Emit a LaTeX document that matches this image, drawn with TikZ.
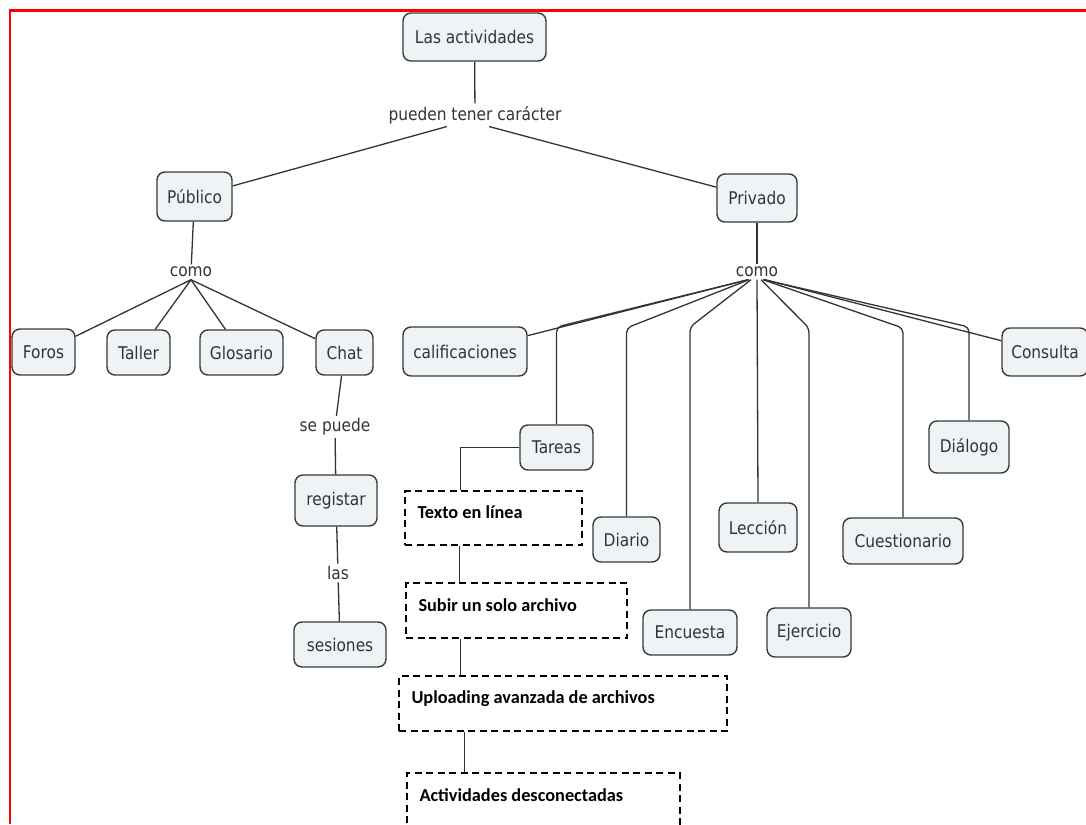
\documentclass[tikz,border=0pt]{standalone}
\usepackage{fontspec}
\setmainfont{DejaVu Sans}[FakeStretch=0.88]
\newfontfamily\boxfont{Carlito}
\definecolor{boxfill}{HTML}{EEF4F6}
\definecolor{boxline}{HTML}{3A3A3A}
\definecolor{ink}{HTML}{333333}
\begin{document}
\begin{tikzpicture}[x=1pt,y=-1pt,
  cbox/.style={draw=boxline, fill=boxfill, line width=1.4pt, rounded corners=8pt,
    inner sep=0pt, text=ink, font=\fontsize{17.5}{20}\selectfont},
  lbl/.style={inner sep=2.5pt, text=ink, font=\fontsize{17.5}{20}\selectfont},
  dbox/.style={draw=black, line width=1.4pt, dash pattern=on 7pt off 4.5pt, inner sep=0pt},
  dtext/.style={font=\boxfont\bfseries\fontsize{18.3}{21}\selectfont, inner sep=0pt, text=black},
  link/.style={draw=ink, line width=1.3pt},
  blink/.style={link, rounded corners=5pt}]
\useasboundingbox (0,0) rectangle (1086,824);
\fill[white] (0,0) rectangle (1086,824);
% frame
\draw[red, line width=2.6pt] (10,824) -- (10,10.5) -- (1090,10.5);

% nodes
\node[cbox, minimum width=143pt, minimum height=48pt] (las) at (474.5,37) {Las actividades};
\node[lbl] (ptc) at (475,115) {pueden tener carácter};
\node[cbox, minimum width=75pt, minimum height=49pt] (pub) at (194.5,196.5) {Público};
\node[cbox, minimum width=80pt, minimum height=48pt] (priv) at (757,198) {Privado};
\node[lbl] (c1) at (191,272) {como};
\node[lbl] (c2) at (757,272) {como};

\node[cbox, minimum width=63pt, minimum height=46pt] (foros) at (43.5,352) {Foros};
\node[cbox, minimum width=63pt, minimum height=45pt] (taller) at (138.5,352.5) {Taller};
\node[cbox, minimum width=83pt, minimum height=45pt] (glos) at (241.5,352.5) {Glosario};
\node[cbox, minimum width=57pt, minimum height=45pt] (chat) at (344.5,352.5) {Chat};
\node[lbl] (sep) at (335,427) {se puede};
\node[cbox, minimum width=82pt, minimum height=51pt] (reg) at (336,500.5) {registar};
\node[lbl] (las2) at (338,573) {las};
\node[cbox, minimum width=92pt, minimum height=45pt] (ses) at (340,644.5) {sesiones};

\node[cbox, minimum width=124pt, minimum height=49pt] (calif) at (465,351.5) {calificaciones};
\node[cbox, minimum width=73pt, minimum height=45pt] (tareas) at (556.5,447.5) {Tareas};
\node[cbox, minimum width=67pt, minimum height=45pt] (diario) at (626.5,539.5) {Diario};
\node[cbox, minimum width=94pt, minimum height=45pt] (encuesta) at (690,632.5) {Encuesta};
\node[cbox, minimum width=78pt, minimum height=49pt] (leccion) at (758,527.5) {Lección};
\node[cbox, minimum width=84pt, minimum height=49pt] (ejercicio) at (809,632.5) {Ejercicio};
\node[cbox, minimum width=120pt, minimum height=46pt] (cuest) at (903,541) {Cuestionario};
\node[cbox, minimum width=80pt, minimum height=52pt] (dialogo) at (969,447) {Diálogo};
\node[cbox, minimum width=86pt, minimum height=48pt] (consulta) at (1045,352) {Consulta};

% dashed boxes
\node[dbox, minimum width=177pt, minimum height=54pt,
  label={[dtext,anchor=west,xshift=13pt,yshift=6pt]west:Texto en línea}] (texto) at (493.5,518) {};
\node[dbox, minimum width=221pt, minimum height=55pt,
  label={[dtext,anchor=west,xshift=13pt,yshift=5.5pt]west:Subir un solo archivo}] (subir) at (516.5,610.5) {};
\node[dbox, minimum width=328pt, minimum height=55pt,
  label={[dtext,anchor=west,xshift=13pt,yshift=4.5pt]west:Uploading avanzada de archivos}] (upl) at (563,703.5) {};
\node[dbox, minimum width=273pt, minimum height=55pt,
  label={[dtext,anchor=west,xshift=13pt,yshift=5.5pt]west:Actividades desconectadas}] (act) at (543.5,800.5) {};

% connectors
\draw[link] (las) -- (ptc);
\draw[link] ([xshift=-28pt]ptc.south) -- (pub);
\draw[link] ([xshift=14pt]ptc.south) -- (priv);
\draw[link] (pub) -- (c1);
\draw[link] (priv) -- (c2);

\draw[link] (c1.south) -- (foros);
\draw[link] (c1.south) -- (taller);
\draw[link] (c1.south) -- (glos);
\draw[link] (c1.south) -- (chat);
\draw[link] (chat) -- (sep);
\draw[link] (sep) -- (reg);
\draw[link] (reg) -- (las2);
\draw[link] (las2) -- (ses);

\coordinate (kr) at (0,327);
\draw[link] ([xshift=-9pt]c2.south) -- (calif);
\draw[blink] ([xshift=-9pt]c2.south) -- (tareas.north |- kr) -- (tareas.north);
\draw[blink] ([xshift=-8pt]c2.south) -- ([yshift=-1pt]diario.north |- kr) -- (diario.north);
\draw[blink] ([xshift=-6pt]c2.south) -- (encuesta.north |- kr) -- (encuesta.north);
\draw[link] (c2.south) -- (leccion.north);
\draw[blink] ([xshift=4pt]c2.south) -- ([yshift=-1pt]ejercicio.north |- kr) -- (ejercicio.north);
\draw[blink] ([xshift=6pt]c2.south) -- ([yshift=-1pt]cuest.north |- kr) -- (cuest.north);
\draw[blink] ([xshift=7pt]c2.south) -- (dialogo.north |- kr) -- (dialogo.north);
\draw[link] ([xshift=8pt]c2.south) -- (consulta);

\draw[link] (tareas.west) -| ([xshift=56pt]texto.north west);
\draw[link] ([xshift=55pt]texto.south west) -- ([xshift=55pt]texto.south west |- subir.north);
\draw[link] ([xshift=55pt]subir.south west) -- ([xshift=55pt]subir.south west |- upl.north);
\draw[link] ([xshift=66pt]upl.south west) -- ([xshift=66pt]upl.south west |- act.north);
\end{tikzpicture}
\end{document}
